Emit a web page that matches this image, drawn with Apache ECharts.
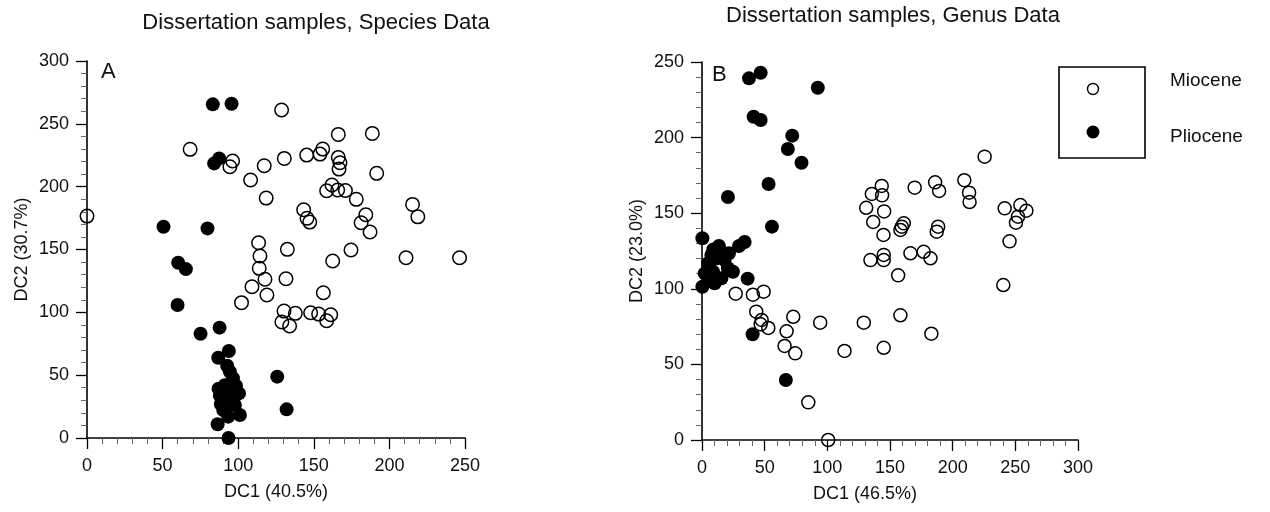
<!DOCTYPE html>
<html>
<head>
<meta charset="utf-8">
<script src="https://cdn.jsdelivr.net/npm/echarts@6/dist/echarts.min.js"></script>
<style>html,body{margin:0;padding:0;background:#fff;}#c{width:1270px;height:512px;}</style>
</head>
<body>
<div id="c"></div>
<script>
// ---- Data ----
const titleSpecies = 'Dissertation samples, Species Data';
const titleGenus = 'Dissertation samples, Genus Data';
const seriesNames = ['Miocene', 'Pliocene'];

const speciesXTicks = [0, 50, 100, 150, 200, 250];
const speciesYTicks = [0, 50, 100, 150, 200, 250, 300];
const genusXTicks = [0, 50, 100, 150, 200, 250, 300];
const genusYTicks = [0, 50, 100, 150, 200, 250];

const speciesMiocene = [
  [128.7,261],[68.2,229.7],[96.3,220.4],[94.5,215.8],[117.2,216.6],[130.5,222.5],[145.3,225.1],
  [154.1,225.9],[155.9,229.9],[166.2,241.6],[188.7,242.4],[166.2,223.3],[167.3,219],[166.7,214],
  [191.6,210.6],[108.2,205.3],[118.5,190.9],[162,201.3],[158.5,196.7],[165.8,197.3],[170.9,197],
  [178.1,189.9],[143.3,181.6],[145.5,174.8],[147.3,171.8],[184.4,177.6],[181.3,171.3],[187.2,163.9],
  [215.3,185.9],[218.8,176],[0,176.6],[113.5,155.4],[132.5,150.1],[174.6,149.6],[211,143.4],
  [246.4,143.4],[114.4,144.8],[113.9,135],[162.5,140.8],[117.7,126.3],[131.6,126.7],[109.1,120.4],
  [119,113.8],[102.2,107.7],[156.3,115.6],[130.3,101],[137.8,99.2],[147.9,99.7],[153.2,98.6],
  [161.2,98.1],[158.5,93.3],[128.9,92.3],[134,89.1]
];
const speciesPliocene = [
  [83.2,265.5],[95.6,266],[87.4,222.5],[84.1,218.5],[50.6,168.1],[79.7,166.8],[60.3,139.5],
  [65.4,134.4],[59.9,105.8],[87.7,87.8],[75.1,83],[125.8,48.8],[132,22.8],
  [93.8,69.2],[86.8,63.9],[92.7,57.5],[94.5,52.7],[96.5,47.5],[98.5,41.6],[87,39.2],[91.2,42],
  [95.6,38],[100.5,35.5],[87.9,33.7],[92,35],[93.4,30.2],[88.5,27],[97.8,26.3],[90.1,22.3],
  [101.1,18.3],[93.4,17],[86.4,10.9],[93.6,0]
];
const genusMiocene = [
  [225.5,187.4],[209.3,171.8],[213.1,163.6],[213.5,157.4],[186,170.4],[189.2,164.7],[169.7,166.9],
  [143.4,168],[143.7,161.8],[135.5,162.7],[131,153.6],[145.3,151.2],[136.6,144.2],[144.8,135.6],
  [161,143.3],[159.4,141.1],[158.3,138.9],[188.4,141.1],[187.3,137.8],[241.5,153.2],[254,155.4],
  [258.8,151.7],[252.1,147.7],[250.5,143.7],[245.4,131.4],[166.3,123.5],[176.9,124.5],[182.3,120.2],
  [134.4,119],[145,122.4],[145,119],[156.5,108.9],[240.4,102.5],[26.9,96.8],[40.6,96.1],[49.2,98.1],
  [43.3,84.9],[47.6,79.4],[46.8,76.5],[52.9,74.1],[72.8,81.5],[67.5,71.9],[65.9,62.2],[74.4,57.3],
  [94.3,77.6],[129.1,77.6],[113.7,58.9],[158.3,82.5],[145,61],[183,70.3],[84.8,24.9],[100.7,0]
];
const genusPliocene = [
  [37.5,239.2],[46.8,242.9],[92.4,233],[41.2,213.8],[46.8,211.6],[72,201.3],[68.5,192.5],
  [79.4,183.4],[53.1,169.3],[20.7,160.7],[55.8,141.1],[0.3,133.4],[36.4,106.7],[40.4,69.9],[66.9,39.7],
  [13.5,128.3],[21.5,123.5],[29.5,128.3],[34,131],[7.5,122.4],[4.8,116.9],[16.7,123.5],[20.7,113.6],
  [24.7,111.3],[15.5,106.9],[10.1,103.6],[0.3,101.4],[8.8,111.3],[2.2,110.2],[11,120],[6,106],
  [18,119],[9,126]
];

// ---- Chart ----
const FONT = '"Liberation Sans", Arial, sans-serif';
const chart = echarts.init(document.getElementById('c'), null, {renderer: 'canvas'});

function makeX(idx, ticks, name, namePad) {
  return {
    type: 'value', gridIndex: idx,
    min: ticks[0], max: ticks[ticks.length - 1], interval: ticks[1] - ticks[0],
    name: name, nameLocation: 'middle', nameGap: 45,
    nameTextStyle: {fontFamily: FONT, fontSize: 18, color: '#111', padding: namePad},
    axisLine: {show: true, onZero: false, lineStyle: {color: '#000', width: 1.6}},
    axisTick: {show: true, inside: false, length: 11, lineStyle: {color: '#000', width: 1.3}},
    minorTick: {show: true, splitNumber: 5, length: 6, lineStyle: {color: '#666', width: 1}},
    axisLabel: {fontFamily: FONT, fontSize: 18, color: '#111', margin: 19},
    splitLine: {show: false}
  };
}
function makeY(idx, ticks, name) {
  return {
    type: 'value', gridIndex: idx,
    min: ticks[0], max: ticks[ticks.length - 1], interval: ticks[1] - ticks[0],
    name: name, nameLocation: 'middle', nameGap: 56, nameRotate: 90,
    nameTextStyle: {fontFamily: FONT, fontSize: 18, color: '#111'},
    axisLine: {show: true, onZero: false, lineStyle: {color: '#000', width: 1.6}},
    axisTick: {show: true, inside: false, length: 11, lineStyle: {color: '#000', width: 1.3}},
    minorTick: {show: true, splitNumber: 5, length: 6, lineStyle: {color: '#666', width: 1}},
    axisLabel: {fontFamily: FONT, fontSize: 18, color: '#111', margin: 18},
    splitLine: {show: false}
  };
}

const openStyle = {color: 'rgba(255,255,255,0)', borderColor: '#000', borderWidth: 1.5, opacity: 1};
const fillStyle = {color: '#000', borderColor: '#000', borderWidth: 0, opacity: 1};

const option = {
  animation: false,
  backgroundColor: '#fff',
  title: [
    {text: titleSpecies, left: 311, top: 7, textAlign: 'center',
     textStyle: {fontFamily: FONT, fontSize: 22, fontWeight: 'normal', color: '#111'}},
    {text: titleGenus, left: 888, top: 0, textAlign: 'center',
     textStyle: {fontFamily: FONT, fontSize: 22, fontWeight: 'normal', color: '#111'}}
  ],
  grid: [
    {left: 87, top: 61, width: 378, height: 377},
    {left: 702, top: 62, width: 376, height: 378}
  ],
  xAxis: [
    makeX(0, speciesXTicks, 'DC1 (40.5%)', [0, 0, 0, 0]),
    makeX(1, genusXTicks, 'DC1 (46.5%)', [0, 50, 0, 0])
  ],
  yAxis: [
    makeY(0, speciesYTicks, 'DC2 (30.7%)'),
    makeY(1, genusYTicks, 'DC2 (23.0%)')
  ],
  series: [
    {name: seriesNames[0], type: 'scatter', xAxisIndex: 0, yAxisIndex: 0, data: speciesMiocene,
     symbol: 'circle', symbolSize: 13.5, itemStyle: openStyle, z: 3},
    {name: seriesNames[1], type: 'scatter', xAxisIndex: 0, yAxisIndex: 0, data: speciesPliocene,
     symbol: 'circle', symbolSize: 14, itemStyle: fillStyle, z: 4},
    {name: seriesNames[0], type: 'scatter', xAxisIndex: 1, yAxisIndex: 1, data: genusMiocene,
     symbol: 'circle', symbolSize: 13, itemStyle: openStyle, z: 3},
    {name: seriesNames[1], type: 'scatter', xAxisIndex: 1, yAxisIndex: 1, data: genusPliocene,
     symbol: 'circle', symbolSize: 14, itemStyle: fillStyle, z: 4}
  ],
  graphic: [
    {type: 'text', left: 101, top: 61, style: {text: 'A', font: '22px ' + FONT, fill: '#111'}},
    {type: 'text', left: 712, top: 64, style: {text: 'B', font: '22px ' + FONT, fill: '#111'}},
    {type: 'rect', shape: {x: 1059, y: 67, width: 86, height: 91},
     style: {fill: '#fff', stroke: '#000', lineWidth: 1.6}},
    {type: 'circle', shape: {cx: 1093, cy: 89, r: 5.5},
     style: {fill: '#fff', stroke: '#000', lineWidth: 1.4}},
    {type: 'circle', shape: {cx: 1093, cy: 132, r: 6.5}, style: {fill: '#000'}},
    {type: 'text', left: 1170, top: 71, style: {text: seriesNames[0], font: '19px ' + FONT, fill: '#111'}},
    {type: 'text', left: 1170, top: 127, style: {text: seriesNames[1], font: '19px ' + FONT, fill: '#111'}}
  ]
};
chart.setOption(option);
</script>
</body>
</html>
